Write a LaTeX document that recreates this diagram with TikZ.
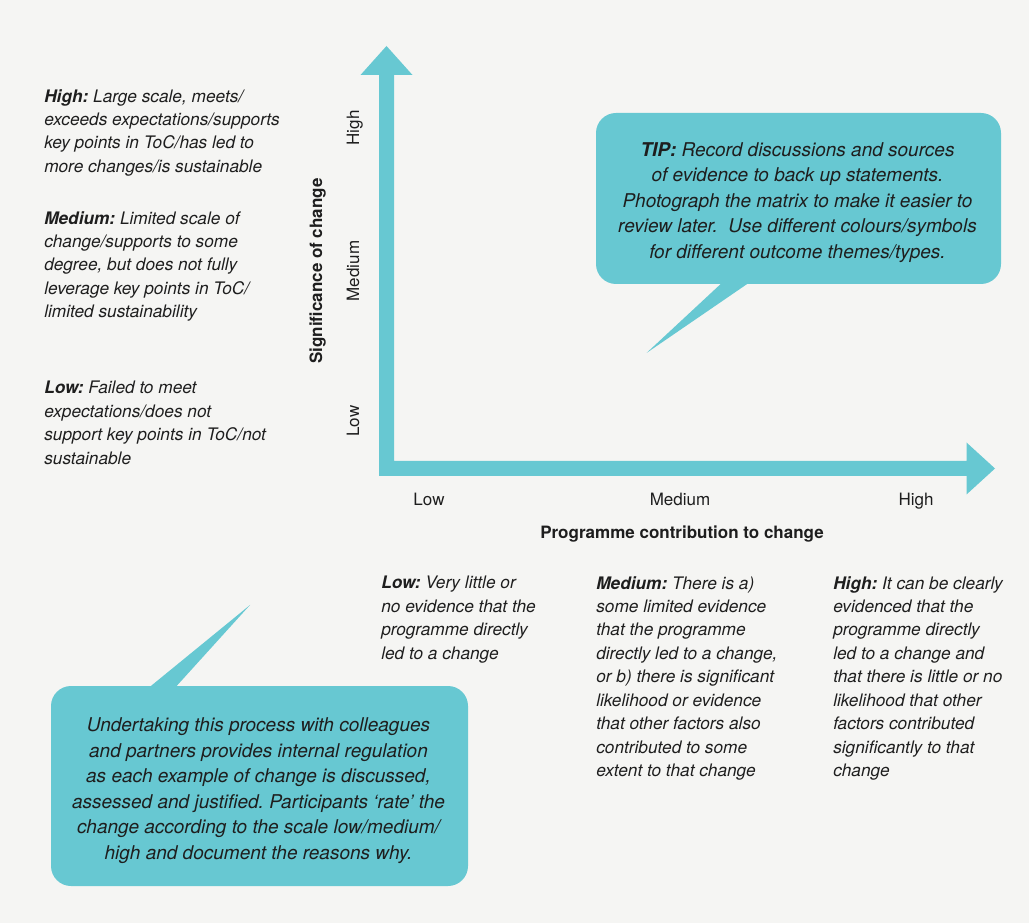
\documentclass[tikz,border=0pt]{standalone}
\usepackage{fontspec}
\setmainfont{TeX Gyre Heros}
\definecolor{matrixteal}{RGB}{103,200,210}
\definecolor{matrixbg}{RGB}{245,245,243}
\definecolor{matrixtext}{RGB}{30,30,30}
\frenchspacing

\begin{document}
\begin{tikzpicture}[x=0.75pt,y=-0.75pt,
    every node/.style={inner sep=0pt,text=matrixtext},
    note/.style={anchor=north west,align=left,
      font=\fontsize{12.95}{17.6}\selectfont\itshape},
    scalelbl/.style={anchor=base,font=\fontsize{12.75}{15}\selectfont},
    axistitle/.style={anchor=base,font=\fontsize{12.75}{15}\selectfont\bfseries},
    bubble/.style={fill=matrixteal,rounded corners=15pt},
    bubbletext/.style={align=center,font=\fontsize{14.25}{19.1}\selectfont\itshape}]
  \fill[matrixbg] (0,0) rectangle (1029,923);

  % axes
  \coordinate (origin) at (386.5,468.5);
  \coordinate (ytip) at (386.5,46);
  \coordinate (xtip) at (995,468.5);
  \fill[matrixteal] (ytip) -- (412.5,75) -- (394,75) -- (394,461)
    -- (966.5,461) -- (966.5,442.5) -- (xtip) -- (966.5,494.5)
    -- (966.5,476) -- (379,476) -- (379,75) -- (360.5,75) -- cycle;

  % scale labels
  \node[scalelbl] (xlow) at (429,506) {Low};
  \node[scalelbl] (xmed) at (680,506) {Medium};
  \node[scalelbl] (xhigh) at (916,506) {High};
  \node[axistitle] (xtitle) at (682,539) {Programme contribution to change};
  \node[scalelbl,rotate=90] (ylow) at (359,421) {Low};
  \node[scalelbl,rotate=90] (ymed) at (359,271) {Medium};
  \node[scalelbl,rotate=90] (yhigh) at (359,128) {High};
  \node[axistitle,rotate=90] (ytitle) at (322,271) {Significance of change};

  % significance notes
  \node[note] (sighigh) at (44,89) {{\bfseries High:} Large scale, meets/\\
    exceeds expectations/supports\\ key points in ToC/has led to\\
    more changes/is sustainable};
  \node[note] (sigmed) at (44,211) {{\bfseries Medium:} Limited scale of\\
    change/supports to some\\ degree, but does not fully\\
    leverage key points in ToC/\\ limited sustainability};
  \node[note] (siglow) at (44,381) {{\bfseries Low:} Failed to meet\\
    expectations/does not\\ support key points in ToC/not\\ sustainable};

  % contribution notes
  \node[note] (conlow) at (381,576) {{\bfseries Low:} Very little or\\
    no evidence that the\\ programme directly\\ led to a change};
  \node[note] (conmed) at (596,576) {{\bfseries Medium:} There is a)\\
    some limited evidence\\ that the programme\\ directly led to a change,\\
    or b) there is significant\\ likelihood or evidence\\
    that other factors also\\ contributed to some\\ extent to that change};
  \node[note] (conhigh) at (833,576) {{\bfseries High:} It can be clearly\\
    evidenced that the\\ programme directly\\ led to a change and\\
    that there is little or no\\ likelihood that other\\
    factors contributed\\ significantly to that\\ change};

  % speech bubbles
  \node[bubble,minimum width=303.75pt,minimum height=128.25pt] (tipbox)
    at (798.5,198.5) {};
  \coordinate (tiptail) at (646.5,353);
  \fill[matrixteal] (725,280) -- (tiptail) -- (753,280) -- cycle;
  \node[bubbletext] (tiptext) at (797.5,202.5) {{\bfseries TIP:} Record
    discussions and sources\\
    of evidence to back up statements.\\
    Photograph the matrix to make it easier to\\
    review later.~ Use different colours/symbols\\
    for different outcome themes/types.};

  \node[bubble,minimum width=312.75pt,minimum height=150pt] (processbox)
    at (259.5,786) {};
  \coordinate (processtail) at (250,605);
  \fill[matrixteal] (146,690) -- (processtail) -- (173,690) -- cycle;
  \node[bubbletext] (processtext) at (258.5,790.5) {Undertaking this process
    with colleagues\\
    and partners provides internal regulation\\
    as each example of change is discussed,\\
    assessed and justified. Participants ‘rate’ the\\
    change according to the scale low/medium/\\
    high and document the reasons why.};
\end{tikzpicture}
\end{document}
